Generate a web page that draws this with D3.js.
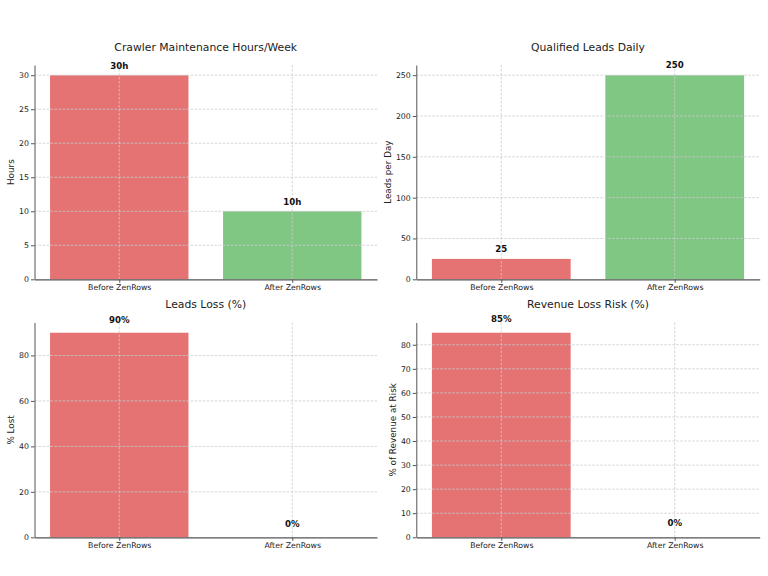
<!DOCTYPE html>
<html>
<head>
<meta charset="utf-8">
<script src="https://cdn.jsdelivr.net/npm/d3@7"></script>
<style>
    body { margin: 0; background: #fff; }
    svg text { font-family: "DejaVu Sans", sans-serif; }
    .grid line { stroke: #cccccc; stroke-width: 0.8; stroke-dasharray: 2.5,1.5; }
    .axis path, .axis line { stroke: #555; }
    .axis.x path { stroke-width: 1.3; }
    .axis text { fill: #222; }
</style>
</head>
<body>
<svg id="chart" width="768" height="576"></svg>
<script>
"use strict";

// data

var categories = ["Before ZenRows", "After ZenRows"];

var maintenanceHours = [30, 10];
var qualifiedLeads = [25, 250];
var leadsLossPct = [90, 0];
var revenueRiskPct = [85, 0];

var hoursTicks = [0, 5, 10, 15, 20, 25, 30];
var leadsTicks = [0, 50, 100, 150, 200, 250];
var lossTicks = [0, 20, 40, 60, 80];
var riskTicks = [0, 10, 20, 30, 40, 50, 60, 70, 80];

var barColors = ["#e57373", "#81c784"];

// panel layout (pixel boxes of each axes) and labels

var panels = [
    { title: "Crawler Maintenance Hours/Week", ylabel: "Hours",
      values: maintenanceHours, ticks: hoursTicks, suffix: "h", pad: 0.9,
      box: { x0: 34.5, x1: 377, y0: 65, y1: 279.3 } },
    { title: "Qualified Leads Daily", ylabel: "Leads per Day",
      values: qualifiedLeads, ticks: leadsTicks, suffix: "", pad: 9,
      box: { x0: 416.3, x1: 759.7, y0: 65, y1: 279.3 } },
    { title: "Leads Loss (%)", ylabel: "% Lost",
      values: leadsLossPct, ticks: lossTicks, suffix: "%", pad: 4.5,
      box: { x0: 34.5, x1: 377, y0: 322.5, y1: 537.3 } },
    { title: "Revenue Loss Risk (%)", ylabel: "% of Revenue at Risk",
      values: revenueRiskPct, ticks: riskTicks, suffix: "%", pad: 4.5,
      box: { x0: 416.3, x1: 759.7, y0: 322.5, y1: 537.3 } }
];

var svg = d3.select("#chart");

function draw_panel(p) {
    var b = p.box;
    var g = svg.append("g");

    // matplotlib-like limits: bars of width 0.8, 5% margins
    var x = d3.scaleLinear().domain([-0.49, 1.49]).range([b.x0, b.x1]);
    var y = d3.scaleLinear().domain([0, d3.max(p.values) * 1.05]).range([b.y1, b.y0]);

    // bars
    g.selectAll("rect.bar")
        .data(p.values)
        .enter().append("rect")
        .attr("class", "bar")
        .attr("x", function (d, i) { return x(i - 0.4); })
        .attr("width", function (d, i) { return x(i + 0.4) - x(i - 0.4); })
        .attr("y", function (d) { return y(d); })
        .attr("height", function (d) { return y(0) - y(d); })
        .attr("fill", function (d, i) { return barColors[i]; });

    // dashed grid, drawn over the bars
    var grid = g.append("g").attr("class", "grid");
    grid.selectAll("line.h")
        .data(p.ticks.filter(function (t) { return t > 0; }))
        .enter().append("line")
        .attr("x1", b.x0).attr("x2", b.x1)
        .attr("y1", function (d) { return y(d); })
        .attr("y2", function (d) { return y(d); });
    grid.selectAll("line.v")
        .data(categories)
        .enter().append("line")
        .attr("x1", function (d, i) { return x(i); })
        .attr("x2", function (d, i) { return x(i); })
        .attr("y1", b.y0).attr("y2", b.y1);

    // axes
    var gy = g.append("g")
        .attr("class", "axis y")
        .attr("transform", "translate(" + b.x0 + ",0)")
        .call(d3.axisLeft(y).tickValues(p.ticks).tickSize(3.5).tickSizeOuter(0).tickPadding(2))
        .attr("font-size", 7.8)
        .attr("font-family", "DejaVu Sans, sans-serif");

    g.append("g")
        .attr("class", "axis x")
        .attr("transform", "translate(0," + b.y1 + ")")
        .call(d3.axisBottom(x).tickValues([0, 1])
            .tickFormat(function (i) { return categories[i]; })
            .tickSize(3.5).tickSizeOuter(0).tickPadding(1.5))
        .attr("font-size", 7.8)
        .attr("font-family", "DejaVu Sans, sans-serif");

    // value labels
    g.selectAll("text.val")
        .data(p.values)
        .enter().append("text")
        .attr("class", "val")
        .attr("x", function (d, i) { return x(i); })
        .attr("y", function (d) { return y(d + p.pad); })
        .attr("text-anchor", "middle")
        .attr("font-size", 8.6)
        .attr("font-weight", "bold")
        .attr("fill", "#111")
        .text(function (d) { return d + p.suffix; });

    // title
    g.append("text")
        .attr("x", (b.x0 + b.x1) / 2)
        .attr("y", b.y0 - 14.5)
        .attr("text-anchor", "middle")
        .attr("font-size", 10.8)
        .attr("fill", "#222")
        .text(p.title);

    // y label, placed left of the tick labels
    var bb = gy.node().getBBox();
    var lx = b.x0 + bb.x - 5;
    g.append("text")
        .attr("transform", "translate(" + lx + "," + ((b.y0 + b.y1) / 2) + ") rotate(-90)")
        .attr("text-anchor", "middle")
        .attr("font-size", 8.8)
        .attr("fill", "#222")
        .text(p.ylabel);
}

panels.forEach(draw_panel);
</script>
</body>
</html>
